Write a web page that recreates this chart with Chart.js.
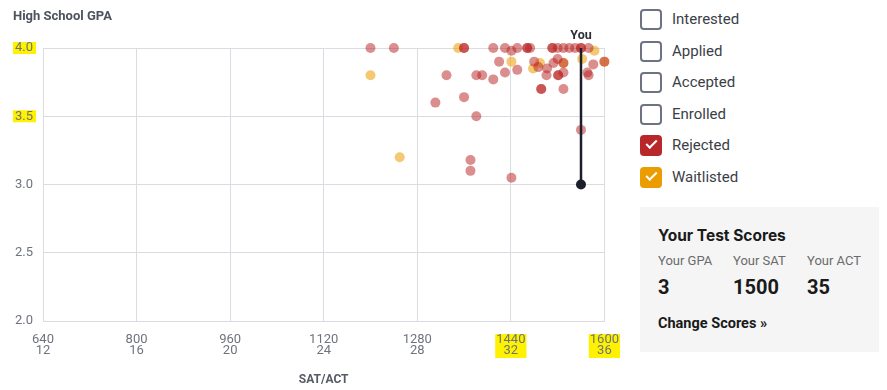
<!DOCTYPE html>
<html>
<head>
<meta charset="utf-8">
<script src="https://cdn.jsdelivr.net/npm/chart.js@4.4.0/dist/chart.umd.min.js"></script>
<style>
  body { margin: 0; background: #fff; font-family: Roboto, sans-serif; }
  #chartBox { position: absolute; left: 0; top: 0; width: 633px; height: 390px; }
  #yTitle { position: absolute; left: 13px; top: 9px; font: bold 13px Roboto, sans-serif; line-height: 14px; color: #4d525e; }
  .item { position: absolute; left: 640px; height: 22px; display: flex; align-items: center; }
  .box { position: relative; width: 22px; height: 21px; box-sizing: border-box; border: 2px solid #6e7383; border-radius: 4px; }
  .box.on { border: none; }
  .box.on::after { content: ''; position: absolute; left: 6px; top: 5px; width: 9px; height: 4px;
    border-left: 2.5px solid #fff; border-bottom: 2.5px solid #fff; transform: rotate(-45deg); }
  .item span { margin-left: 10px; font-size: 15px; color: #3b3e46; }
  #card { position: absolute; left: 640px; top: 207px; width: 239px; height: 145px; background: #f5f5f5; }
  #card div { position: absolute; white-space: nowrap; }
  .cardTitle { left: 18px; top: 19px; font: 700 15.5px Inter, sans-serif; line-height: 20px; color: #1a1a1a; }
  .lbl { top: 46px; font-size: 13px; line-height: 16px; color: #6b6b6b; }
  .val { top: 68px; font-size: 20px; font-weight: 700; line-height: 24px; color: #1a1a1a; }
  .change { left: 18px; top: 108px; font-size: 14.5px; font-weight: 700; line-height: 18px; color: #1a1a1a; }
</style>
</head>
<body>
<div id="chartBox"><canvas id="gpaChart"></canvas></div>
<div id="yTitle">High School GPA</div>

<div class="item" style="top:8px"><div class="box"></div><span>Interested</span></div>
<div class="item" style="top:40px"><div class="box"></div><span>Applied</span></div>
<div class="item" style="top:71px"><div class="box"></div><span>Accepted</span></div>
<div class="item" style="top:103px"><div class="box"></div><span>Enrolled</span></div>
<div class="item" style="top:134px"><div class="box on" style="background:#b8282b"></div><span>Rejected</span></div>
<div class="item" style="top:166px"><div class="box on" style="background:#eb9c00"></div><span>Waitlisted</span></div>

<div id="card">
  <div class="cardTitle">Your Test Scores</div>
  <div class="lbl" style="left:18px">Your GPA</div>
  <div class="lbl" style="left:93px">Your SAT</div>
  <div class="lbl" style="left:167px">Your ACT</div>
  <div class="val" style="left:18px" id="vGpa"></div>
  <div class="val" style="left:93px" id="vSat"></div>
  <div class="val" style="left:167px" id="vAct"></div>
  <div class="change">Change Scores »</div>
</div>

<script>
// axis ticks
const satTicks = [640, 800, 960, 1120, 1280, 1440, 1600];
const actTicks = [12, 16, 20, 24, 28, 32, 36];
const gpaTicks = [2.0, 2.5, 3.0, 3.5, 4.0];
// ticks marked with a yellow highlight in the picture
const markedSat = [1440, 1600];
const markedGpa = [4.0, 3.5];

// student's own scores
const yourGpa = 3;
const yourSat = 1500;
const yourAct = 35;

// rejected applicants (SAT scale, GPA)
const rejectedSat = [1200, 1240, 1360, 1360, 1410, 1430, 1451, 1468, 1468, 1473, 1511, 1511, 1520, 1530, 1540, 1550, 1560, 1560, 1573,
  1441, 1420, 1381, 1391, 1410, 1430, 1451, 1480, 1487, 1502, 1501, 1513, 1520, 1521, 1521, 1530, 1530, 1571, 1573, 1581, 1600,
  1492, 1492, 1530, 1330, 1311, 1360, 1381, 1371, 1371, 1441, 1560];
const rejectedGpa = [4.0, 4.0, 4.0, 4.0, 4.0, 4.0, 4.0, 4.0, 4.0, 4.0, 4.0, 4.0, 4.0, 4.0, 4.0, 4.0, 4.0, 4.0, 4.0,
  3.98, 3.9, 3.8, 3.8, 3.77, 3.82, 3.84, 3.9, 3.86, 3.85, 3.8, 3.89, 3.92, 3.8, 3.8, 3.89, 3.82, 3.82, 3.8, 3.88, 3.9,
  3.7, 3.7, 3.7, 3.8, 3.6, 3.64, 3.5, 3.18, 3.1, 3.05, 3.4];

// waitlisted applicants
const waitlistedSat = [1200, 1250, 1350, 1441, 1478, 1490, 1530, 1562, 1583, 1600];
const waitlistedGpa = [3.8, 3.2, 4.0, 3.9, 3.85, 3.89, 3.89, 3.92, 3.98, 3.9];

document.getElementById('vGpa').textContent = yourGpa;
document.getElementById('vSat').textContent = yourSat;
document.getElementById('vAct').textContent = yourAct;

// ACT placed on the SAT axis using the paired tick labels
const actToSat = a => satTicks[0] + (a - actTicks[0]) * (satTicks[1] - satTicks[0]) / (actTicks[1] - actTicks[0]);
const youX = Math.max(yourSat, actToSat(yourAct));

const toPoints = (xs, ys) => xs.map((x, i) => ({ x: x, y: ys[i] }));

const highlightPlugin = {
    id: 'tickHighlight',
    beforeDraw(chart) {
        const ctx = chart.ctx;
        const xs = chart.scales.x, ys = chart.scales.y;
        ctx.save();
        ctx.fillStyle = '#fff200';
        ctx.font = '13px Roboto';
        markedGpa.forEach(v => {
            const py = ys.getPixelForValue(v);
            const w = ctx.measureText(v.toFixed(1)).width;
            const right = ys.right - 10;
            ctx.fillRect(right - w - 2, py - 6, w + 5, 12);
        });
        markedSat.forEach(v => {
            const px = xs.getPixelForValue(v);
            const w = ctx.measureText(String(v)).width;
            ctx.fillRect(px - w / 2 - 1, xs.top + 13, w + 2, 24);
        });
        ctx.restore();
    },
    afterDatasetsDraw(chart) {
        const meta = chart.getDatasetMeta(0);
        const top = meta.data[1];
        const ctx = chart.ctx;
        ctx.save();
        ctx.font = 'bold 12.5px Roboto';
        ctx.fillStyle = '#2b2e36';
        ctx.textAlign = 'center';
        ctx.textBaseline = 'middle';
        ctx.fillText('You', top.x, top.y - 12);
        ctx.restore();
    }
};

new Chart(document.getElementById('gpaChart'), {
    type: 'scatter',
    data: {
        datasets: [{
            type: 'line',
            label: 'You',
            data: [{ x: youX, y: yourGpa }, { x: youX, y: gpaTicks[gpaTicks.length - 1] }],
            borderColor: '#1c1f2a',
            borderWidth: 2.5,
            pointRadius: [5, 0],
            pointBackgroundColor: '#1c1f2a',
            pointBorderWidth: 0,
            clip: false
        }, {
            label: 'Rejected',
            data: toPoints(rejectedSat, rejectedGpa),
            backgroundColor: 'rgba(184, 30, 30, 0.5)',
            pointRadius: 5,
            pointBorderWidth: 0,
            clip: false
        }, {
            label: 'Waitlisted',
            data: toPoints(waitlistedSat, waitlistedGpa),
            backgroundColor: 'rgba(236, 154, 0, 0.55)',
            pointRadius: 5,
            pointBorderWidth: 0,
            clip: false
        }]
    },
    options: {
        responsive: true,
        maintainAspectRatio: false,
        animation: false,
        layout: { padding: { top: 48, right: 8, left: 0, bottom: 0 } },
        plugins: { legend: { display: false }, tooltip: { enabled: false } },
        scales: {
            x: {
                type: 'linear',
                min: satTicks[0],
                max: satTicks[satTicks.length - 1],
                afterBuildTicks: s => { s.ticks = satTicks.map(v => ({ value: v })); },
                afterFit: s => { s.height = 69; },
                grid: { color: '#d9dce1', drawTicks: false },
                border: { color: '#d9dce1' },
                ticks: {
                    padding: 14,
                    maxRotation: 0,
                    color: '#6f747c',
                    font: { family: 'Roboto', size: 13, lineHeight: 0.8 },
                    callback: (v, i) => [String(satTicks[i]), String(actTicks[i])]
                },
                title: {
                    display: true,
                    text: 'SAT/ACT',
                    color: '#555a66',
                    font: { family: 'Roboto', size: 12, weight: 'bold' },
                    padding: { top: 0, bottom: 3 }
                }
            },
            y: {
                min: gpaTicks[0],
                max: gpaTicks[gpaTicks.length - 1],
                afterBuildTicks: s => { s.ticks = gpaTicks.map(v => ({ value: v })); },
                afterFit: s => { s.width = 43; },
                grid: { color: '#d9dce1', drawTicks: false },
                border: { color: '#d9dce1' },
                ticks: {
                    padding: 10,
                    color: '#6f747c',
                    font: { family: 'Roboto', size: 13 },
                    callback: v => v.toFixed(1)
                }
            }
        }
    },
    plugins: [highlightPlugin]
});
</script>
</body>
</html>
